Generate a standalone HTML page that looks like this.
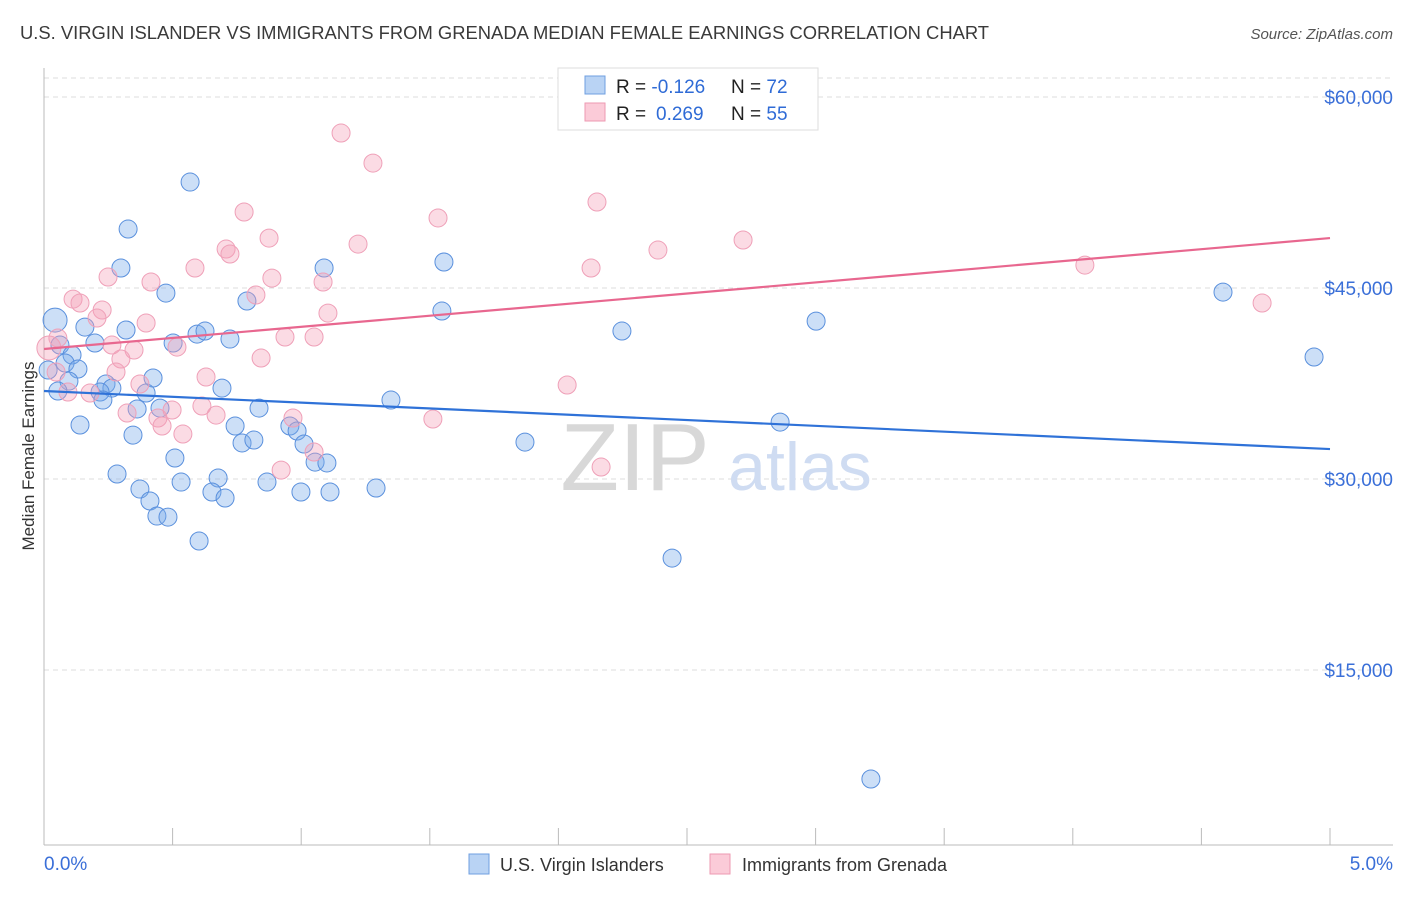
<!DOCTYPE html>
<html><head><meta charset="utf-8"><style>
body{margin:0;background:#fff;font-family:"Liberation Sans",sans-serif;}
svg text{font-family:"Liberation Sans",sans-serif;}
</style></head><body>
<svg id="chart" width="1406" height="892">
<text x="20" y="39" font-size="18.4" fill="#3a3a3a">U.S. VIRGIN ISLANDER VS IMMIGRANTS FROM GRENADA MEDIAN FEMALE EARNINGS CORRELATION CHART</text>
<text x="1393" y="39" font-size="15" fill="#555" text-anchor="end" font-style="italic">Source: ZipAtlas.com</text>
<g id="grid"></g>
<text x="635" y="490" font-size="96" fill="#d8d8d8" text-anchor="middle" font-family="Liberation Serif">ZIP</text>
<text x="800" y="490" font-size="68" fill="#cfdcf2" text-anchor="middle">atlas</text>
<line x1="44" y1="68" x2="44" y2="845" stroke="#bbb"/>
<line x1="44" y1="845" x2="1393" y2="845" stroke="#bbb"/>
<g id="yticks"></g><g id="xticks"></g>
<text transform="translate(34,456) rotate(-90)" font-size="17" fill="#333" text-anchor="middle">Median Female Earnings</text>
<g id="pts"></g><g id="lines"></g>
<g>
<rect x="558" y="68" width="260" height="62" fill="#fff" stroke="#ddd"/>
<rect x="585" y="76" width="20" height="18" fill="#b9d3f4" stroke="#6f9fe0"/>
<rect x="585" y="103" width="20" height="18" fill="#fbcbd8" stroke="#ee9ab2"/>
<text x="616" y="93" font-size="19" fill="#222">R = <tspan fill="#2f6bd6">-0.126</tspan><tspan x="731">N = </tspan><tspan fill="#2f6bd6">72</tspan></text>
<text x="616" y="120" font-size="19" fill="#222">R = <tspan fill="#2f6bd6" x="656">0.269</tspan><tspan x="731">N = </tspan><tspan fill="#2f6bd6">55</tspan></text>
</g>
<g>
<rect x="469" y="854" width="20" height="20" fill="#b9d3f4" stroke="#6f9fe0"/>
<text x="500" y="871" font-size="18" fill="#333">U.S. Virgin Islanders</text>
<rect x="710" y="854" width="20" height="20" fill="#fbcbd8" stroke="#ee9ab2"/>
<text x="742" y="871" font-size="18" fill="#333">Immigrants from Grenada</text>
</g>
</svg>
<script>
const yTicks=[15000,30000,45000,60000];
const yTickLabels=["$15,000","$30,000","$45,000","$60,000"];
const xTickLabels=["0.0%","5.0%"];
const blueX=[0.568,0.327,0.299,0.474,1.089,1.555,0.789,1.547,0.159,0.319,0.043,0.595,0.626,0.723,0.502,0.198,0.062,0.109,0.082,0.132,0.097,0.424,0.241,0.264,0.054,0.218,0.397,0.692,0.229,1.349,0.451,0.362,0.836,0.140,0.346,0.743,0.956,0.770,0.816,0.984,1.011,0.509,1.054,1.100,0.284,0.533,0.677,0.867,0.373,0.653,0.704,0.412,0.999,1.112,1.291,0.439,0.482,0.603,1.870,2.247,2.862,3.002,2.442,3.215,4.584,4.938,0.016];
const blueY=[53320,49630,46570,44600,46570,47040,43980,43190,41930,41700,42480,41380,41620,40990,40680,40680,40520,39740,39110,38640,37690,37930,37460,37140,36910,36830,36750,37140,36200,36200,35570,35500,35570,34240,33450,34160,34160,32830,33060,33770,32750,31650,31330,31260,30390,29760,30080,29760,29210,28980,28510,28270,28980,28980,29290,27090,27010,25130,32900,41620,34470,42400,23790,6440,44680,39580,38560];
const pinkX=[1.155,1.279,2.150,0.778,1.532,0.875,2.718,1.221,0.708,0.723,2.387,0.587,2.127,0.249,0.886,1.085,0.416,4.047,4.736,0.113,0.140,0.824,0.226,0.206,1.104,0.397,0.937,1.050,0.054,0.517,0.264,0.350,0.299,0.844,0.019,0.373,0.630,0.280,2.034,0.179,0.093,0.323,0.443,0.498,0.614,0.669,0.459,0.968,1.512,0.540,1.050,0.922,2.166,0.047];
const pinkY=[57170,54810,51750,50970,50500,48920,48770,48450,48060,47670,47980,46570,46570,45860,45780,45470,45470,46800,43820,44130,43820,44450,43270,42640,43030,42250,41150,41150,41070,40360,40520,40130,39420,39500,40290,37460,38010,38400,37380,36750,36830,35180,34790,35420,35730,35020,34160,34790,34710,33530,32120,30700,30940,38400];
const blueTrend=[36910,32350];
const pinkTrend=[40210,48920];
const NS="http://www.w3.org/2000/svg";
const sx=v=>44+v/5*1286, sy=v=>861-v/15000*191;
function mk(tag,attrs,parent){const e=document.createElementNS(NS,tag);for(const k in attrs)e.setAttribute(k,attrs[k]);document.getElementById(parent).appendChild(e);return e;}
[...yTicks,61490].forEach(v=>{const l=mk('line',{x1:44,x2:1393,y1:sy(v),y2:sy(v),stroke:'#ddd','stroke-dasharray':'5,4'},'grid');

});
yTicks.forEach((v,i)=>{const t=mk('text',{x:1393,y:sy(v)+7,'font-size':19,fill:'#3a6fd8','text-anchor':'end'},'yticks');t.textContent=yTickLabels[i];

});
for(let i=0;i<=10;i++){const x=sx(i*0.5);const l=mk('line',{x1:x,x2:x,y1:828,y2:845,stroke:'#bbb'},'xticks');

}
xTickLabels.forEach((s,i)=>{const t=mk('text',{x:i?1393:44,y:870,'font-size':19,fill:'#3a6fd8','text-anchor':i?'end':'start'},'xticks');t.textContent=s;

});
blueX.forEach((x,i)=>{const c=mk('circle',{cx:sx(x),cy:sy(blueY[i]),r:i==10?12:9,fill:'rgba(120,170,235,0.38)',stroke:'#5a90dd','stroke-width':1},'pts');

});
pinkX.forEach((x,i)=>{const c=mk('circle',{cx:sx(x),cy:sy(pinkY[i]),r:i==34?12:9,fill:'rgba(245,160,185,0.38)',stroke:'#efa0b8','stroke-width':1},'pts');

});
const bl=mk('line',{x1:sx(0),x2:sx(5),y1:sy(blueTrend[0]),y2:sy(blueTrend[1]),stroke:'#2f72d8','stroke-width':2.2},'lines');


const pl=mk('line',{x1:sx(0),x2:sx(5),y1:sy(pinkTrend[0]),y2:sy(pinkTrend[1]),stroke:'#e8678f','stroke-width':2.2},'lines');


</script>
</body></html>
